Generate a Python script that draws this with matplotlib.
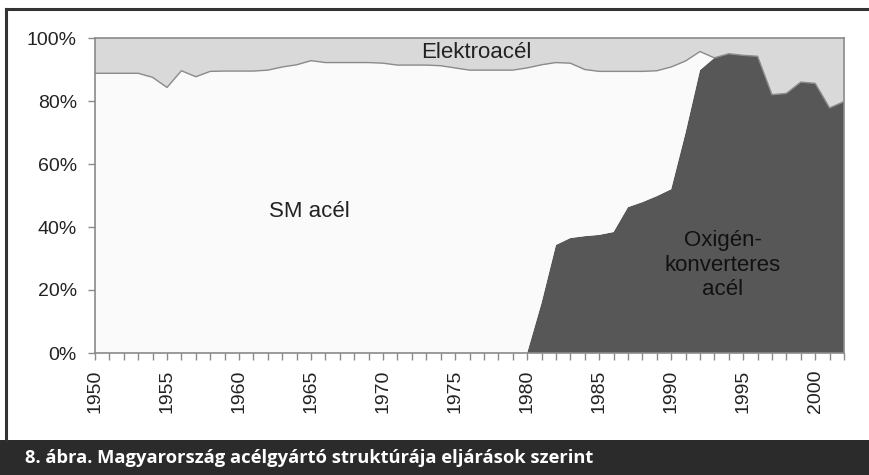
import matplotlib
matplotlib.use("Agg")
import matplotlib.pyplot as plt
from matplotlib.lines import Line2D
from matplotlib.patches import Rectangle
import numpy as np

plt.rcParams['font.family'] = ['Liberation Sans', 'DejaVu Sans']

years = list(range(1950, 2003))

# Oxygen converter steel share (%)
oxygen = [0]*31 + [15.9, 34.3, 36.5, 37.1, 37.5, 38.4, 46.3, 47.9, 49.8, 52.0,
                   70.0, 89.8, 93.7, 95.0, 94.5, 94.2, 82.0, 82.4, 86.0, 85.6,
                   77.8, 79.8]

# Share of non-electric steel (SM + oxygen), i.e. 100 - electric steel (%)
non_electro = [88.8, 88.8, 88.8, 88.8, 87.5, 84.3, 89.6, 87.7, 89.4, 89.5,
               89.5, 89.5, 89.8, 90.8, 91.5, 92.8, 92.2, 92.2, 92.2, 92.2,
               92.0, 91.4, 91.4, 91.4, 91.2, 90.5, 89.8, 89.8, 89.8, 89.8,
               90.5, 91.5, 92.2, 92.0, 90.0, 89.4, 89.4, 89.4, 89.4, 89.6,
               90.8, 92.7, 95.7, 93.7, 95.0, 94.5, 94.2, 82.0, 82.4, 86.0,
               85.6, 77.8, 79.8]

sm = [ne - ox for ne, ox in zip(non_electro, oxygen)]
electro = [100 - ne for ne in non_electro]

label_years = list(range(1950, 2001, 5))
y_ticks = [0, 20, 40, 60, 80, 100]
y_tick_labels = ['0%', '20%', '40%', '60%', '80%', '100%']
title = "8. ábra. Magyarország acélgyártó struktúrája eljárások szerint"

fig = plt.figure(figsize=(8.69, 4.75), dpi=100)
fig.patch.set_facecolor('white')
ax = fig.add_axes([95/869, 1-353/475, (844-95)/869, (353-38)/475])

ax.stackplot(years, oxygen, sm, electro,
             colors=['#575757', '#fafafa', '#d9d9d9'], linewidth=0)
ax.plot(years, non_electro, color='#8a8a8a', lw=1.0)

ax.set_xlim(1950, 2002)
ax.set_ylim(0, 100)
ax.set_facecolor('#fafafa')
for s in ax.spines.values():
    s.set_color('#8a8a8a')
    s.set_linewidth(1.2)

ax.set_yticks(y_ticks)
ax.set_yticklabels(y_tick_labels)
ax.set_xticks(label_years)
ax.set_xticklabels([str(y) for y in label_years], rotation=90)
ax.set_xticks(years, minor=True)
ax.tick_params(axis='y', length=5, width=1, color='#8a8a8a', pad=8,
               labelsize=14, labelcolor='#222222')
ax.tick_params(axis='x', which='both', length=5, width=1, color='#8a8a8a',
               direction='out', labelsize=14, labelcolor='#222222', pad=7)

ax.text(1976.5, 95.5, 'Elektroacél', fontsize=16, ha='center', va='center', color='#222222')
ax.text(1964.9, 44.8, 'SM acél', fontsize=16, ha='center', va='center', color='#222222')
ax.text(1993.6, 27.9, 'Oxigén-\nkonverteres\nacél', fontsize=16, ha='center', va='center',
        color='#111111', linespacing=1.2)

# Outer frame and caption band
fig.add_artist(Line2D([6/869, 1], [1-9/475, 1-9/475], color='#333333', lw=2.2,
                      transform=fig.transFigure))
fig.add_artist(Line2D([6/869, 6/869], [1-9/475, 35/475], color='#333333', lw=2.2,
                      transform=fig.transFigure))
fig.add_artist(Rectangle((0, 0), 1, 35/475, transform=fig.transFigure,
                         facecolor='#2b2b2b', edgecolor='none'))
fig.text(25/869, 17/475, title, color='white', fontsize=13.2, fontweight='bold',
         family=['Open Sans', 'DejaVu Sans'], va='center', ha='left')

fig.savefig('out.png', dpi=100)
